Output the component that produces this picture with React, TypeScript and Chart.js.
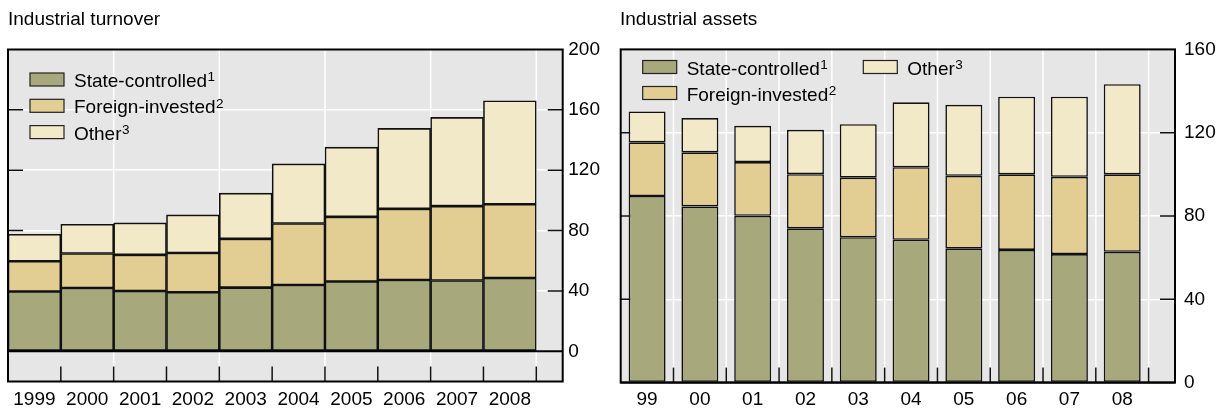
import React, { useEffect, useRef } from 'react';
import { Chart, registerables } from 'chart.js';

Chart.register(...registerables);

// ---------- data ----------
const turnoverYears = ['1999', '2000', '2001', '2002', '2003', '2004', '2005', '2006', '2007', '2008'];
const turnoverState = [39.6, 42.0, 40.0, 39.1, 42.2, 44.0, 46.2, 47.3, 46.9, 48.6];
const turnoverForeign = [20.1, 22.8, 23.9, 26.1, 32.3, 40.7, 42.9, 47.1, 49.3, 48.9];
const turnoverOther = [17.9, 19.4, 21.2, 25.2, 30.3, 39.5, 46.2, 53.3, 58.8, 68.5];
const turnoverTicks = [0, 40, 80, 120, 160, 200];

const assetsYears = ['99', '00', '01', '02', '03', '04', '05', '06', '07', '08'];
const assetsState = [89.6, 84.6, 80.1, 74.1, 69.8, 68.6, 64.3, 63.7, 61.7, 62.8];
const assetsForeign = [25.8, 26.0, 25.8, 26.0, 28.6, 34.8, 35.0, 36.3, 37.1, 37.2];
const assetsOther = [14.8, 16.4, 17.4, 21.3, 25.7, 31.2, 34.1, 37.3, 38.5, 43.3];
const assetsTicks = [0, 40, 80, 120, 160];

const seriesNames = ['State-controlled', 'Foreign-invested', 'Other'];
const seriesNotes = ['1', '2', '3'];
const seriesColors = ['#a7a87b', '#e2ce92', '#f2e9c8'];

const FONT = "'Liberation Sans', Arial, Helvetica, sans-serif";

type LegendPos = { dx: number; dy: number };

const framePlugin = {
  id: 'frame',
  beforeDraw(chart: any) {
    const { ctx, chartArea: a } = chart;
    ctx.save();
    ctx.fillStyle = '#e6e6e6';
    ctx.fillRect(a.left, a.top, a.right - a.left, a.bottom - a.top);
    ctx.restore();
  },
  beforeDatasetsDraw(chart: any, _a: any, o: any) {
    const { ctx, chartArea: a } = chart;
    const xs = chart.scales.x;
    const ys = chart.scales.y;
    ctx.save();
    ctx.strokeStyle = '#ffffff';
    ctx.lineWidth = 1.5;
    for (const b of o.vLines) {
      const px = xs.getPixelForValue(b);
      ctx.beginPath();
      ctx.moveTo(px, a.top);
      ctx.lineTo(px, a.bottom);
      ctx.stroke();
    }
    ctx.strokeStyle = '#111';
    ctx.lineWidth = 1.5;
    for (const t of ys.ticks) {
      if (t.value <= 0 || t.value >= ys.max) continue;
      const py = ys.getPixelForValue(t.value);
      ctx.beginPath();
      ctx.moveTo(a.left, py);
      ctx.lineTo(a.left + 15, py);
      ctx.moveTo(a.right - 15, py);
      ctx.lineTo(a.right, py);
      ctx.stroke();
    }
    for (const b of o.xTicks) {
      const px = xs.getPixelForValue(b);
      ctx.beginPath();
      ctx.moveTo(px, a.bottom - 15);
      ctx.lineTo(px, a.bottom);
      ctx.stroke();
    }
    ctx.restore();
  },
  afterDatasetsDraw(chart: any, _a: any, o: any) {
    const { ctx, chartArea: a } = chart;
    const ys = chart.scales.y;
    ctx.save();
    ctx.strokeStyle = '#000';
    ctx.lineWidth = 2;
    const zy = ys.getPixelForValue(0);
    ctx.beginPath();
    ctx.moveTo(a.left, zy);
    ctx.lineTo(a.right, zy);
    ctx.stroke();
    ctx.strokeRect(a.left, a.top, a.right - a.left, a.bottom - a.top);
    const pos: LegendPos[] = o.legend;
    chart.data.datasets.forEach((ds: any, i: number) => {
      const p = pos[i];
      const bx = a.left + p.dx;
      const cy = a.top + p.dy;
      ctx.fillStyle = ds.backgroundColor;
      ctx.fillRect(bx, cy - 6.5, 34, 13);
      ctx.strokeStyle = '#222';
      ctx.lineWidth = 1.2;
      ctx.strokeRect(bx, cy - 6.5, 34, 13);
      ctx.fillStyle = '#000';
      ctx.textBaseline = 'alphabetic';
      ctx.textAlign = 'left';
      ctx.font = `19px ${FONT}`;
      const tx = bx + 44;
      ctx.fillText(ds.label, tx, cy + 7.5);
      const w = ctx.measureText(ds.label).width;
      ctx.font = `13.5px ${FONT}`;
      ctx.fillText(seriesNotes[i], tx + w + 0.5, cy + 1.8);
    });
    ctx.restore();
  },
};

interface PanelProps {
  width: number;
  height: number;
  cats: string[];
  series: number[][];
  ticks: number[];
  yMin: number;
  yMax: number;
  barPct: number;
  pad: { left: number; top: number };
  yWidth: number;
  xHeight: number;
  xLabelPad: number;
  yLabelPad: number;
  vLines: number[];
  xTicks: number[];
  legend: LegendPos[];
}

function Panel(props: PanelProps) {
  const ref = useRef<HTMLCanvasElement | null>(null);
  useEffect(() => {
    const canvas = ref.current;
    if (!canvas) return;
    const datasets = props.series.map((vals, si) => ({
      label: seriesNames[si],
      data: vals.map((v, i) => ({ x: i, y: v })),
      backgroundColor: seriesColors[si],
      borderColor: '#111111',
      borderWidth: 1.6,
      borderSkipped: false,
      barPercentage: props.barPct,
      categoryPercentage: 1,
    }));
    const chart = new Chart(canvas, {
      type: 'bar',
      data: { datasets },
      plugins: [framePlugin],
      options: {
        animation: false,
        responsive: false,
        maintainAspectRatio: false,
        events: [],
        layout: { padding: { left: props.pad.left, top: props.pad.top, right: 0, bottom: 0 } },
        plugins: {
          legend: { display: false },
          tooltip: { enabled: false },
          title: { display: false },
          frame: { vLines: props.vLines, xTicks: props.xTicks, legend: props.legend },
        } as any,
        scales: {
          x: {
            type: 'linear',
            stacked: true,
            offset: false,
            min: -0.5,
            max: 10,
            grid: { display: false, drawTicks: false, offset: false },
            border: { display: false },
            afterBuildTicks: (s: any) => {
              s.ticks = props.cats.map((_, i) => ({ value: i }));
            },
            afterFit: (s: any) => {
              s.height = props.xHeight;
            },
            ticks: {
              autoSkip: false,
              maxRotation: 0,
              minRotation: 0,
              padding: props.xLabelPad,
              color: '#000',
              font: { family: FONT, size: 19 },
              callback: (v: any) => props.cats[v as number] ?? '',
            },
          },
          y: {
            type: 'linear',
            position: 'right',
            stacked: true,
            min: props.yMin,
            max: props.yMax,
            afterBuildTicks: (s: any) => {
              s.ticks = props.ticks.map((v) => ({ value: v }));
            },
            afterFit: (s: any) => {
              s.width = props.yWidth;
            },
            grid: {
              drawTicks: false,
              lineWidth: 1.5,
              color: (c: any) =>
                c.tick && (c.tick.value === 0 || c.tick.value === props.yMax) ? 'rgba(0,0,0,0)' : '#ffffff',
            },
            border: { display: false },
            ticks: {
              padding: props.yLabelPad,
              color: '#000',
              font: { family: FONT, size: 19 },
              callback: (v: any) => String(v),
            },
          },
        },
      } as any,
    });
    return () => chart.destroy();
  }, []);
  return <canvas ref={ref} width={props.width} height={props.height} style={{ display: 'block' }} />;
}

const titleStyle: React.CSSProperties = {
  position: 'absolute',
  top: 8,
  fontFamily: FONT,
  fontSize: 19,
  color: '#000',
  whiteSpace: 'nowrap',
};

export default function App() {
  return (
    <div style={{ position: 'fixed', left: 0, top: 0, width: 1219, height: 410, background: '#fff', overflow: 'hidden' }}>
      <div style={{ position: 'absolute', left: 0, top: 0 }}>
        <Panel
          width={610}
          height={410}
          cats={turnoverYears}
          series={[turnoverState, turnoverForeign, turnoverOther]}
          ticks={turnoverTicks}
          yMin={-20}
          yMax={200}
          barPct={1}
          pad={{ left: 8, top: 49.5 }}
          yWidth={47.3}
          xHeight={28.5}
          xLabelPad={6.5}
          yLabelPad={5.6}
          vLines={[1.5, 3.5, 5.5, 7.5, 9.5]}
          xTicks={[0.5, 1.5, 2.5, 3.5, 4.5, 5.5, 6.5, 7.5, 8.5, 9.5]}
          legend={[
            { dx: 22, dy: 30 },
            { dx: 22, dy: 56.3 },
            { dx: 22, dy: 82.6 },
          ]}
        />
      </div>
      <div style={{ position: 'absolute', left: 610, top: 0 }}>
        <Panel
          width={609}
          height={410}
          cats={assetsYears}
          series={[assetsState, assetsForeign, assetsOther]}
          ticks={assetsTicks}
          yMin={0}
          yMax={160}
          barPct={0.7}
          pad={{ left: 10.7, top: 49.4 }}
          yWidth={44}
          xHeight={27.4}
          xLabelPad={5.5}
          yLabelPad={9}
          vLines={[0.5, 1.5, 2.5, 3.5, 4.5, 5.5, 6.5, 7.5, 8.5, 9.5]}
          xTicks={[0.5, 1.5, 2.5, 3.5, 4.5, 5.5, 6.5, 7.5, 8.5, 9.5]}
          legend={[
            { dx: 22, dy: 17.6 },
            { dx: 22, dy: 43.6 },
            { dx: 242.6, dy: 17.6 },
          ]}
        />
      </div>
      <div style={{ ...titleStyle, left: 8 }}>Industrial turnover</div>
      <div style={{ ...titleStyle, left: 620 }}>Industrial assets</div>
    </div>
  );
}
